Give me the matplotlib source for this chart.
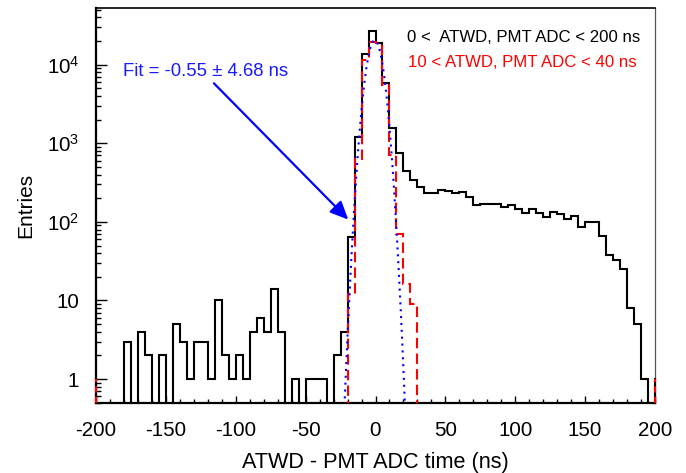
import numpy as np
import matplotlib
matplotlib.use("Agg")
import matplotlib.pyplot as plt
from matplotlib.ticker import FixedLocator, FixedFormatter, LogLocator, MultipleLocator, NullFormatter

# ---- data ----
bin_lo, bin_hi, bin_w = -200, 200, 5
black_counts = [0, 0, 0, 0, 3, 0, 4, 2, 0, 2,
                0, 5, 3, 1, 3, 3, 1, 10, 2, 1,
                2, 1, 4, 6, 4, 14, 4, 0, 1, 0,
                1, 1, 1, 0, 2, 4, 64, 1210, 13500, 27000,
                19000, 5850, 1560, 757, 446, 345, 280, 230, 230, 258,
                248, 234, 239, 208, 163, 168, 171, 167, 155, 163,
                144, 128, 146, 128, 116, 132, 125, 108, 118, 85,
                100, 100, 66, 38, 33, 25, 8, 5, 1, 0]
red_counts = [0] * 36 + [12, 640, 11500, 19600, 18800, 5500, 700, 70, 16, 9] + [0] * 34
fit_mean, fit_sigma, fit_amp = -0.55, 4.68, 20500

xticks = [-200, -150, -100, -50, 0, 50, 100, 150, 200]
ytick_vals = [1, 10, 100, 1000, 10000]
ytick_labels = ['1', '10', '$10^{2}$', '$10^{3}$', '$10^{4}$']
ymin, ymax = 0.5, 5.35e4

label_black = "0 <  ATWD, PMT ADC < 200 ns"
label_red = "10 < ATWD, PMT ADC < 40 ns"
fit_text = "Fit = -0.55 \u00b1 4.68 ns"
xlabel = "ATWD - PMT ADC time (ns)"
ylabel = "Entries"

# ---- style ----
plt.rcParams['font.family'] = ['Liberation Sans', 'DejaVu Sans']
plt.rcParams['mathtext.fontset'] = 'custom'
plt.rcParams['mathtext.rm'] = 'Liberation Sans'
plt.rcParams['mathtext.it'] = 'Liberation Sans'
plt.rcParams['axes.unicode_minus'] = False

fig = plt.figure(figsize=(6.86, 4.73), dpi=100)
ax = fig.add_axes([96/686, 1 - 402.7/473, (655-96)/686, (402.7-7.5)/473])

edges = np.arange(bin_lo, bin_hi + bin_w, bin_w)
floor = ymin * 1e-3
bvals = np.array(black_counts, float)
rvals = np.array(red_counts, float)
ax.stairs(np.where(bvals > 0, bvals, floor), edges, color='black', lw=1.5, zorder=3)
ax.stairs(np.where(rvals > 0, rvals, floor), edges, color='red', lw=1.5,
          linestyle=(0, (5, 2.5)), zorder=4)
# edge segments drawn by the original at the histogram range limits
for xe in (edges[0], edges[-1]):
    ax.plot([xe, xe], [ymin, 1], color='black', lw=1.5, zorder=3, clip_on=False)
    ax.plot([xe, xe], [ymin, 1], color='red', lw=1.5, linestyle=(0, (3, 2)), zorder=5, clip_on=False)

xf = np.linspace(-30, 30, 601)
yf = fit_amp * np.exp(-0.5 * ((xf - fit_mean) / fit_sigma) ** 2)
ax.plot(xf, yf, color='#0000ff', lw=1.5, linestyle=(0, (1, 2.3)), zorder=5)

ax.set_yscale('log')
ax.set_xlim(bin_lo, bin_hi)
ax.set_ylim(ymin, ymax)

ax.xaxis.set_major_locator(FixedLocator(xticks))
ax.xaxis.set_minor_locator(MultipleLocator(10))
ax.yaxis.set_major_locator(FixedLocator(ytick_vals))
ax.yaxis.set_major_formatter(FixedFormatter(ytick_labels))
ax.yaxis.set_minor_locator(LogLocator(base=10, subs=np.arange(2, 10)))
ax.yaxis.set_minor_formatter(NullFormatter())

ax.tick_params(axis='both', which='both', direction='in', top=False, right=False, width=1.0, labelsize=14.8)
ax.tick_params(axis='x', which='major', length=5, pad=13)
ax.tick_params(axis='x', which='minor', length=3)
ax.tick_params(axis='y', which='major', length=8, pad=12)
ax.tick_params(axis='y', which='minor', length=3.5)

for s in ('left', 'bottom'):
    ax.spines[s].set_linewidth(1.6)
ax.spines['top'].set_linewidth(1.2)
ax.spines['right'].set_linewidth(0.9)
ax.spines['right'].set_color('#555555')

ax.set_xlabel(xlabel, fontsize=15.6, labelpad=9)
ax.set_ylabel(ylabel, fontsize=15.0, labelpad=8.5)

ax.text(-181, 8150, fit_text, color='#1a1aff', fontsize=13.3, va='center', ha='left')
ax.annotate('', xy=(-19.5, 107), xytext=(-115.6, 5800),
            arrowprops=dict(arrowstyle='-|>,head_length=1.1,head_width=0.5', color='#0000ff',
                            lw=1.6, shrinkA=0, shrinkB=0))
ax.text(22.5, 2.25e4, label_black, color='black', fontsize=12.1, va='center', ha='left')
ax.text(23.2, 1.08e4, label_red, color='red', fontsize=12.1, va='center', ha='left')

fig.savefig('out.png', dpi=100)
